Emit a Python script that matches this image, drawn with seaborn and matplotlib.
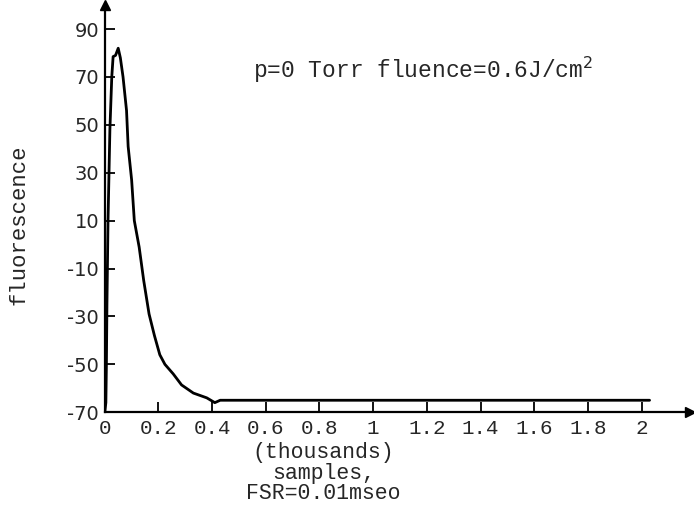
import matplotlib
matplotlib.use("Agg")
import matplotlib.pyplot as plt
import numpy as np
import pandas as pd
import seaborn as sns

# fluorescence trace (x in thousands of samples)
samples = [0.0, 0.004, 0.006, 0.008, 0.012, 0.019, 0.026, 0.031, 0.04, 0.05,
           0.058, 0.068, 0.081, 0.087, 0.10, 0.11, 0.128, 0.145, 0.165, 0.185,
           0.205, 0.224, 0.255, 0.286, 0.33, 0.38, 0.41, 0.43, 0.47, 1.0, 1.5, 2.03]
fluor = [-70, -66, -50, -25, 10, 48, 70, 78.5, 79, 82,
         78, 70, 56, 41, 27, 10, -1, -15, -29, -38,
         -46, -50, -54, -58.6, -62, -64, -66, -65, -65, -65, -65, -65]

xticks = [0, 0.2, 0.4, 0.6, 0.8, 1, 1.2, 1.4, 1.6, 1.8, 2]
xticklabels = ["0", "0.2", "0.4", "0.6", "0.8", "1", "1.2", "1.4", "1.6", "1.8", "2"]
yticks = [-70, -50, -30, -10, 10, 30, 50, 70, 90]

df = pd.DataFrame({"samples": samples, "fluorescence": fluor})

sns.set_style("white")
mono = "Liberation Mono"

fig = plt.figure(figsize=(6.94, 5.14), dpi=100)
ax = fig.add_axes([0.151, 0.198, 0.843, 0.792])

sns.lineplot(data=df, x="samples", y="fluorescence", ax=ax,
             color="black", linewidth=2.0, sort=False)

ax.set_xlim(0, 2.18)
ax.set_ylim(-70, 100)
ax.set_xticks(xticks)
ax.set_xticklabels(xticklabels, family=mono, fontsize=15)
ax.set_yticks(yticks)
ax.set_yticklabels([str(v) for v in yticks], family="DejaVu Sans", fontsize=14)
ax.tick_params(axis="both", direction="in", length=7, width=1.3, color="black",
               bottom=True, left=True)
ax.tick_params(axis="x", pad=5)
ax.tick_params(axis="y", pad=4)

for s in ["top", "right"]:
    ax.spines[s].set_visible(False)
for s in ["left", "bottom"]:
    ax.spines[s].set_linewidth(1.6)
    ax.spines[s].set_color("black")

# arrow heads on the axes
ax.plot(1, -70, ">k", markersize=7, transform=ax.get_yaxis_transform(), clip_on=False)
ax.plot(0, 1, "^k", markersize=7, transform=ax.get_xaxis_transform(), clip_on=False)

ax.set_xlabel("")
ax.set_ylabel("fluorescence", family=mono, fontsize=16)
ax.yaxis.set_label_coords(-0.128, 0.46)

fig.text(0.466, 0.120, "(thousands)", family=mono, fontsize=15.5, ha="center", va="center")
fig.text(0.466, 0.079, "samples,", family=mono, fontsize=15.5, ha="center", va="center")
fig.text(0.466, 0.040, "FSR=0.01mseo", family=mono, fontsize=15.5, ha="center", va="center")

ax.text(0.253, 0.84, "p=0 Torr fluence=0.6J/cm$^2$", transform=ax.transAxes,
        family=mono, fontsize=16.5, ha="left", va="center")

fig.savefig("out.png", dpi=100)
